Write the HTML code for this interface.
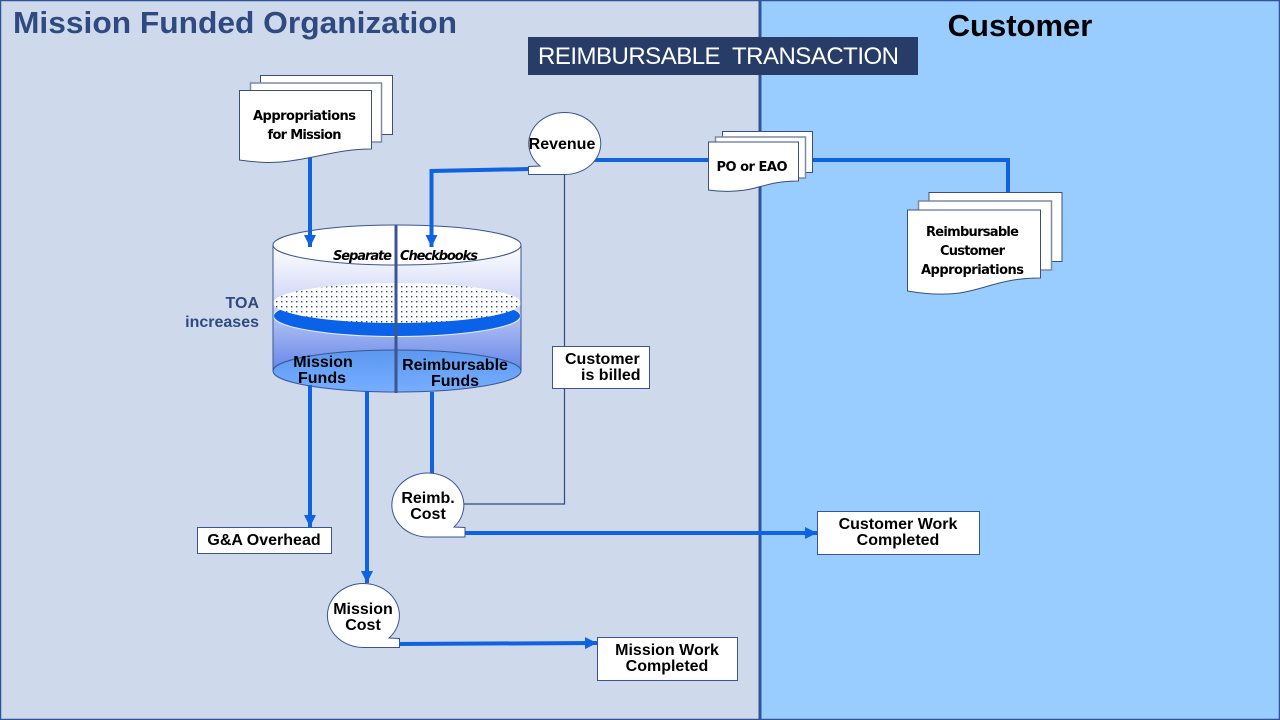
<!DOCTYPE html>
<html>
<head>
<meta charset="utf-8">
<style>
html,body{margin:0;padding:0;width:1280px;height:720px;overflow:hidden;background:#cfd9ec}
svg{display:block}
text{font-family:"Liberation Sans",sans-serif;fill:#000}
.b{font-weight:bold}
.d{font-family:"DejaVu Sans",sans-serif;font-weight:bold;font-size:13px}
</style>
</head>
<body>
<svg width="1280" height="720" viewBox="0 0 1280 720" xmlns="http://www.w3.org/2000/svg">
<defs>
<linearGradient id="upper" x1="0" y1="0" x2="0" y2="1"><stop offset="0" stop-color="#ffffff"/><stop offset="1" stop-color="#c4ccf4"/></linearGradient>
<linearGradient id="lower" x1="0" y1="0" x2="0" y2="1"><stop offset="0" stop-color="#b4c2f2"/><stop offset="1" stop-color="#4670e6"/></linearGradient>
<linearGradient id="bot" x1="0" y1="0" x2="0" y2="1"><stop offset="0" stop-color="#5c98f0"/><stop offset="1" stop-color="#76aeff"/></linearGradient>
<pattern id="dots" width="5" height="5" patternUnits="userSpaceOnUse"><rect width="5" height="5" fill="#fff"/><rect x="1" y="1" width="1.4" height="1.4" fill="#3a4a70"/></pattern>
<marker id="ah" markerUnits="userSpaceOnUse" markerWidth="12" markerHeight="12" refX="12" refY="6" orient="auto"><path d="M0 0L12 6L0 12Z" fill="#0f62e0"/></marker>
</defs>

<rect x="0" y="0" width="760" height="720" fill="#cfd9ec"/>
<rect x="760" y="0" width="520" height="720" fill="#99ccff"/>
<rect x="0.5" y="0.5" width="1279" height="719" fill="none" stroke="#2f5597" stroke-width="1.5"/>
<line x1="760" y1="0" x2="760" y2="720" stroke="#2f5597" stroke-width="3"/>

<text x="13" y="33" class="b" font-size="31" style="fill:#2f4a80" textLength="444" lengthAdjust="spacingAndGlyphs">Mission Funded Organization</text>
<text x="1020" y="36" text-anchor="middle" class="b" font-size="31">Customer</text>
<rect x="528" y="37" width="390" height="38" fill="#273c66"/>
<text x="538" y="64" font-size="24" style="fill:#fff" textLength="361" lengthAdjust="spacing" xml:space="preserve">REIMBURSABLE  TRANSACTION</text>

<!-- thin line -->
<path d="M564.5 170V504H462" fill="none" stroke="#2f4a80" stroke-width="1.2"/>

<!-- connectors behind -->
<g fill="none" stroke="#0f62e0" stroke-width="4">
<line x1="310" y1="150" x2="310" y2="247" marker-end="url(#ah)"/>
<path d="M530 169L431.500 171V247" marker-end="url(#ah)"/>
<line x1="590" y1="160" x2="712" y2="160"/>
<path d="M810 160H1008V195"/>
</g>

<!-- Appropriations doc -->
<g stroke="#3a4f80" stroke-width="1" fill="#fff">
<rect x="260.500" y="75.500" width="132" height="59"/>
<rect x="250.500" y="83" width="131" height="59" stroke="#7f8aa3" stroke-width="1.500"/>
<path d="M239.500 90.500H371.500V149C340 149 320 157 290 161C270 164 255 162 239.500 160Z"/>
</g>
<text x="304.500" y="120" text-anchor="middle" class="d" textLength="103">Appropriations</text>
<text x="304.500" y="139" text-anchor="middle" class="d" textLength="74">for Mission</text>

<!-- Cylinder -->
<path d="M273 245V316H521V245Z" fill="url(#upper)"/>
<path d="M273 316V371A124 21 0 0 0 521 371V316Z" fill="url(#lower)"/>
<ellipse cx="397" cy="371" rx="124" ry="21" fill="url(#bot)" stroke="#3a5590" stroke-width="1"/>
<ellipse cx="397" cy="316" rx="123.500" ry="20.500" fill="#0a62e8" stroke="#e8eeff" stroke-width="1"/>
<ellipse cx="397" cy="303" rx="124" ry="20" fill="url(#dots)"/>
<path d="M273 245V371M521 245V371" fill="none" stroke="#3a5590" stroke-width="1"/>
<ellipse cx="397" cy="245" rx="124" ry="20" fill="#fff" stroke="#3a5590" stroke-width="1"/>
<line x1="396" y1="225" x2="396" y2="393" stroke="#3a5590" stroke-width="3"/>

<!-- redraw arrow ends over top ellipse -->
<g fill="none" stroke="#0f62e0" stroke-width="4">
<line x1="310" y1="225" x2="310" y2="247" marker-end="url(#ah)"/>
<line x1="431.500" y1="225" x2="431.500" y2="247" marker-end="url(#ah)"/>
</g>

<text x="333" y="260" class="d" style="font-style:italic" textLength="59">Separate</text>
<text x="400" y="260" class="d" style="font-style:italic" textLength="78">Checkbooks</text>

<text x="259" y="308" text-anchor="end" class="b" font-size="16" style="fill:#2f4a80">TOA</text>
<text x="259" y="327" text-anchor="end" class="b" font-size="16" style="fill:#2f4a80">increases</text>

<text x="323" y="367" text-anchor="middle" class="b" font-size="16">Mission</text>
<text x="322" y="383" text-anchor="middle" class="b" font-size="16">Funds</text>
<text x="455" y="370" text-anchor="middle" class="b" font-size="16">Reimbursable</text>
<text x="455" y="386" text-anchor="middle" class="b" font-size="16">Funds</text>

<!-- lower connectors -->
<g fill="none" stroke="#0f62e0" stroke-width="4">
<line x1="310" y1="385" x2="310" y2="527" marker-end="url(#ah)"/>
<line x1="367" y1="391" x2="367" y2="583" marker-end="url(#ah)"/>
<line x1="432" y1="392" x2="432" y2="476"/>
<line x1="460" y1="533" x2="817" y2="533" marker-end="url(#ah)"/>
<line x1="395" y1="644" x2="597" y2="643" marker-end="url(#ah)"/>
</g>

<!-- Revenue tape -->
<path d="M540 166A36 31 0 1 1 564.500 174.500H528.500V166.500Z" fill="#fff" stroke="#3a5590" stroke-width="1"/>
<text x="562" y="149" text-anchor="middle" class="b" font-size="16">Revenue</text>

<!-- PO doc -->
<g stroke="#3a4f80" stroke-width="1" fill="#fff">
<rect x="722.500" y="131.500" width="90" height="41"/>
<rect x="715.500" y="137" width="90" height="41" stroke="#7f8aa3" stroke-width="1.500"/>
<path d="M708.500 142H798.500V181C780 181 770 184 755 188C740 192 722 192 708.500 190Z"/>
</g>
<text x="752" y="171" text-anchor="middle" class="d" textLength="71">PO or EAO</text>

<!-- Customer approp doc -->
<g stroke="#3a4f80" stroke-width="1" fill="#fff">
<rect x="929" y="192.500" width="133" height="69"/>
<rect x="918.500" y="201" width="133" height="69" stroke="#7f8aa3" stroke-width="1.500"/>
<path d="M907.500 210H1040.500V278C1005 278 990 287 965 292C945 296 925 294 907.500 291Z"/>
</g>
<text x="972.500" y="236" text-anchor="middle" class="d" textLength="93">Reimbursable</text>
<text x="972.500" y="255" text-anchor="middle" class="d" textLength="65">Customer</text>
<text x="972.500" y="274" text-anchor="middle" class="d" textLength="103">Appropriations</text>

<!-- Boxes -->
<g fill="#fff" stroke="#3a5590" stroke-width="1">
<rect x="552.500" y="346.500" width="97" height="42"/>
<rect x="197.500" y="527.500" width="134" height="26"/>
<rect x="597.500" y="637.500" width="140" height="43"/>
<rect x="817.500" y="511.500" width="162" height="43"/>
</g>
<text x="565" y="364" class="b" font-size="16">Customer</text>
<text x="581" y="380" class="b" font-size="16">is billed</text>
<text x="264" y="545" text-anchor="middle" class="b" font-size="16">G&amp;A Overhead</text>
<text x="667" y="655" text-anchor="middle" class="b" font-size="16">Mission Work</text>
<text x="667" y="671" text-anchor="middle" class="b" font-size="16">Completed</text>
<text x="898" y="529" text-anchor="middle" class="b" font-size="16">Customer Work</text>
<text x="898" y="545" text-anchor="middle" class="b" font-size="16">Completed</text>

<!-- Reimb Cost tape -->
<path d="M454 527A36 32 0 1 0 428.500 537H465V527.500Z" fill="#fff" stroke="#3a5590" stroke-width="1"/>
<text x="428" y="503" text-anchor="middle" class="b" font-size="16">Reimb.</text>
<text x="428" y="519" text-anchor="middle" class="b" font-size="16">Cost</text>

<!-- Mission Cost tape -->
<path d="M389 638A36 32 0 1 0 363.500 647.500H399.500V638.500Z" fill="#fff" stroke="#3a5590" stroke-width="1"/>
<text x="363" y="614" text-anchor="middle" class="b" font-size="16">Mission</text>
<text x="363" y="630" text-anchor="middle" class="b" font-size="16">Cost</text>
</svg>
</body>
</html>
